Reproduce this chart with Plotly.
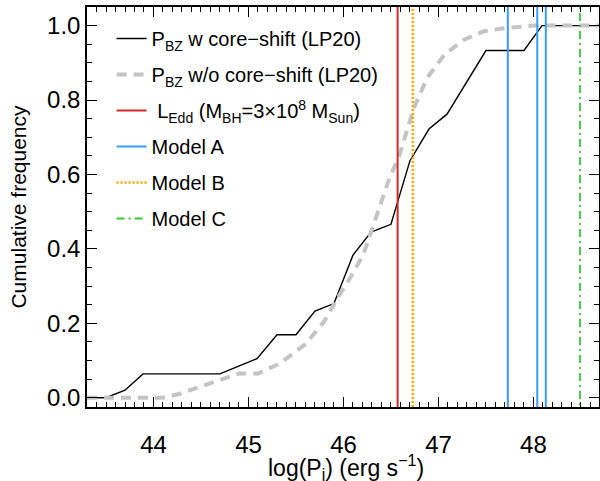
import plotly.graph_objects as go

# Black: P_BZ with core-shift (LP20), cumulative
bz_w_x = [43.3, 43.5, 43.7, 43.89, 44.7, 45.09, 45.3, 45.5, 45.7, 45.9, 46.1, 46.29, 46.5, 46.7, 46.9, 47.09, 47.5, 47.9, 48.09, 48.7]
bz_w_y = [0.0, 0.0, 0.02, 0.064, 0.064, 0.105, 0.169, 0.169, 0.233, 0.253, 0.383, 0.445, 0.466, 0.637, 0.722, 0.762, 0.933, 0.933, 1.0, 1.0]

# Gray: P_BZ without core-shift (LP20), smoothed cumulative
bz_wo_x = [43.3, 43.6, 43.9, 44.1, 44.27, 44.5, 44.7, 44.9, 45.1, 45.33, 45.6, 45.8, 45.93, 46.07, 46.21, 46.35, 46.47, 46.59, 46.74, 46.88, 47.06, 47.27, 47.48, 47.69, 48.0, 48.7]
bz_wo_y = [0.0, 0.0, 0.0, 0.0, 0.01, 0.03, 0.05, 0.065, 0.065, 0.092, 0.144, 0.206, 0.265, 0.322, 0.385, 0.492, 0.58, 0.653, 0.778, 0.859, 0.921, 0.962, 0.985, 0.993, 1.0, 1.0]

l_edd = [46.57]
model_a = [47.73, 48.04, 48.13]
model_b = [46.73]
model_c = [48.49]

x_ticks = [44, 45, 46, 47, 48]
y_ticks = [0, 0.2, 0.4, 0.6, 0.8, 1.0]
y_ticklabels = ["0.0", "0.2", "0.4", "0.6", "0.8", "1.0"]
x_title = "log(P<sub>j</sub>) (erg s<sup>−1</sup>)"
y_title = "Cumulative frequency"

X_RANGE = [43.3, 48.69]
Y_RANGE = [-0.025, 1.05]
Y_SPAN = [-0.1, 1.2]


def vlines(xs):
    xx, yy = [], []
    for v in xs:
        xx += [v, v, None]
        yy += [Y_SPAN[0], Y_SPAN[1], None]
    return xx, yy


fig = go.Figure()
fig.add_trace(go.Scatter(x=bz_w_x, y=bz_w_y, mode="lines",
                         line=dict(color="black", width=1.4),
                         name="P<sub>BZ</sub> w core−shift (LP20)"))
fig.add_trace(go.Scatter(x=bz_wo_x, y=bz_wo_y, mode="lines",
                         line=dict(color="#c4c4c4", width=4, dash="10px,7px"),
                         name="P<sub>BZ</sub> w/o core−shift (LP20)"))

specs = [
    (l_edd, "#d42a2a", "solid", 2.0, " L<sub>Edd</sub> (M<sub>BH</sub>=3×10<sup>8</sup> M<sub>Sun</sub>)"),
    (model_a, "#3a9bff", "solid", 2.0, "Model A"),
    (model_b, "#ffa500", "2px,2px", 2.5, "Model B"),
    (model_c, "#33cc33", "8px,4px,2px,4px", 1.8, "Model C"),
]
for xs, col, dash, w, name in specs:
    xx, yy = vlines(xs)
    fig.add_trace(go.Scatter(x=xx, y=yy, mode="lines",
                             line=dict(color=col, width=w, dash=dash),
                             name=name))

for i, tr in enumerate(fig.data):
    tr.legendgroup = f"g{i}"

# invisible trace to hold the mirrored (top/right) tick axes
fig.add_trace(go.Scatter(x=[None], y=[None], xaxis="x2", yaxis="y2",
                         showlegend=False, hoverinfo="skip"))

tick_common = dict(ticks="inside", ticklen=10, tickwidth=1.2, tickcolor="black",
                   showline=True, linecolor="black", linewidth=1.5,
                   showgrid=False, zeroline=False, automargin=False)

fig.update_layout(
    width=600, height=481,
    margin=dict(l=87, r=1, t=7, b=74),
    paper_bgcolor="white", plot_bgcolor="white",
    font=dict(family="Liberation Sans, Arial, sans-serif", color="black"),
    showlegend=True,
    legend=dict(x=0.048, y=0.97, xanchor="left", yanchor="top",
                font=dict(size=20), bgcolor="rgba(0,0,0,0)",
                tracegroupgap=7, itemwidth=30, traceorder="grouped"),
    xaxis=dict(range=X_RANGE, tickmode="array", tickvals=x_ticks,
               minor=dict(dtick=0.1, tick0=0, ticks="inside", ticklen=5, tickwidth=1, tickcolor="black"),
               tickfont=dict(size=24), ticklabelstandoff=15,
               **tick_common),
    yaxis=dict(range=Y_RANGE, tickmode="array", tickvals=y_ticks, ticktext=y_ticklabels,
               minor=dict(dtick=0.05, tick0=0, ticks="inside", ticklen=5, tickwidth=1, tickcolor="black"),
               tickfont=dict(size=24),
               title=dict(text=y_title, font=dict(size=21), standoff=15),
               **tick_common),
    xaxis2=dict(range=X_RANGE, overlaying="x", side="top", anchor="y2",
                tickmode="array", tickvals=x_ticks, showticklabels=False,
                minor=dict(dtick=0.1, tick0=0, ticks="inside", ticklen=5, tickwidth=1, tickcolor="black"),
                **tick_common),
    yaxis2=dict(range=Y_RANGE, overlaying="y", side="right", anchor="x2",
                tickmode="array", tickvals=y_ticks, showticklabels=False,
                minor=dict(dtick=0.05, tick0=0, ticks="inside", ticklen=5, tickwidth=1, tickcolor="black"),
                **tick_common),
)

fig.add_annotation(text=x_title, xref="paper", yref="paper", x=0.506,
                   y=-0.15, xanchor="center", yanchor="middle", showarrow=False,
                   borderpad=0, font=dict(size=23, color="black"))

fig.write_html("out.html")
